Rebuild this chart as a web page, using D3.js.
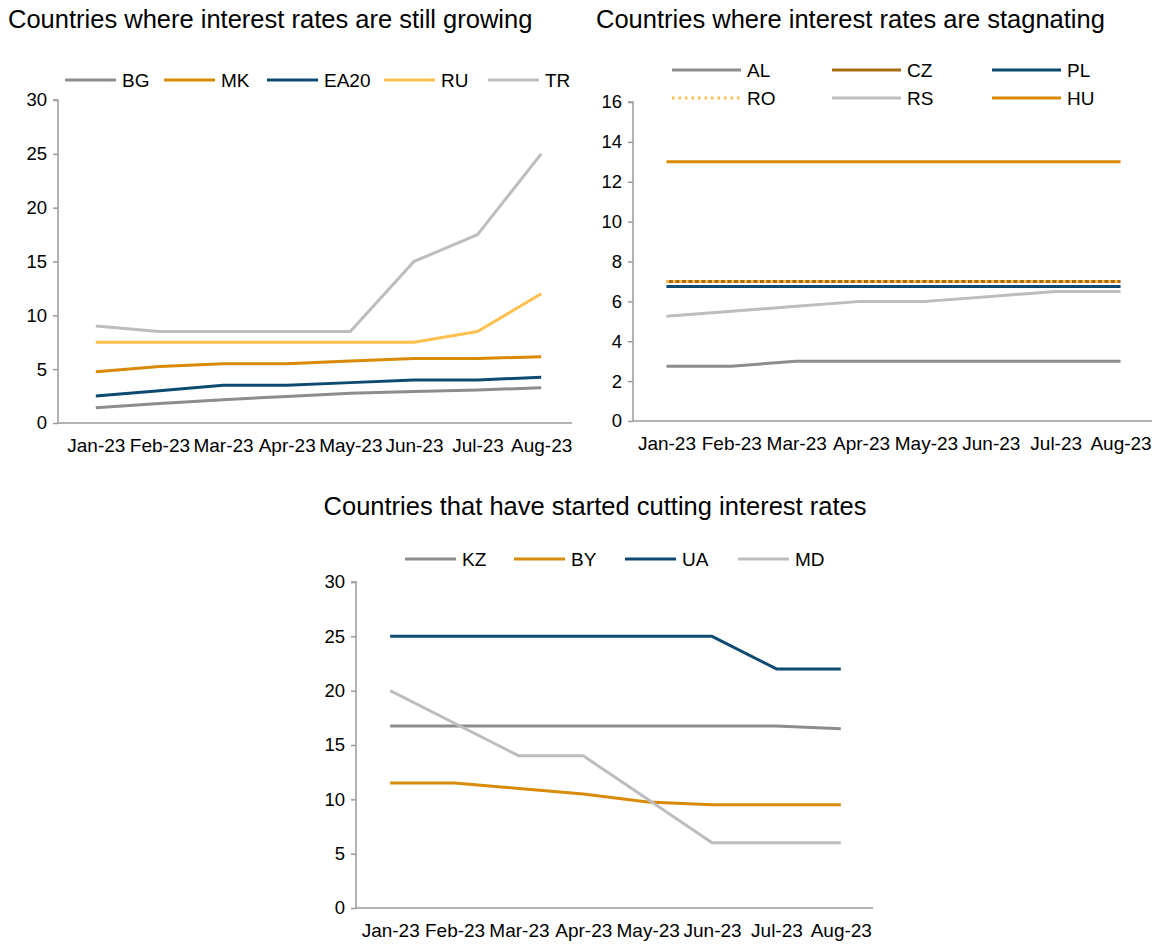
<!DOCTYPE html>
<html>
<head>
<meta charset="utf-8">
<script src="https://cdn.jsdelivr.net/npm/d3@7"></script>
<style>
  html, body { margin: 0; padding: 0; background: #fff; }
  svg { display: block; font-family: "Liberation Sans", Arial, sans-serif; }
</style>
</head>
<body>
<svg id="chart" width="1157" height="944"></svg>
<script>
// Months shared by all three panels
const months = ["Jan-23", "Feb-23", "Mar-23", "Apr-23", "May-23", "Jun-23", "Jul-23", "Aug-23"];

// Panel 1: rates still growing
const growingBG   = [1.42, 1.82, 2.17, 2.47, 2.77, 2.92, 3.07, 3.27];
const growingMK   = [4.75, 5.25, 5.5, 5.5, 5.75, 6, 6, 6.15];
const growingEA20 = [2.5, 3, 3.5, 3.5, 3.75, 4, 4, 4.25];
const growingRU   = [7.5, 7.5, 7.5, 7.5, 7.5, 7.5, 8.5, 12];
const growingTR   = [9, 8.5, 8.5, 8.5, 8.5, 15, 17.5, 25];
const growingTicks = [0, 5, 10, 15, 20, 25, 30];

// Panel 2: rates stagnating
const stagAL = [2.75, 2.75, 3, 3, 3, 3, 3, 3];
const stagCZ = [7, 7, 7, 7, 7, 7, 7, 7];
const stagPL = [6.75, 6.75, 6.75, 6.75, 6.75, 6.75, 6.75, 6.75];
const stagRO = [7, 7, 7, 7, 7, 7, 7, 7];
const stagRS = [5.25, 5.5, 5.75, 6, 6, 6.25, 6.5, 6.5];
const stagHU = [13, 13, 13, 13, 13, 13, 13, 13];
const stagTicks = [0, 2, 4, 6, 8, 10, 12, 14, 16];

// Panel 3: rates being cut
const cutKZ = [16.75, 16.75, 16.75, 16.75, 16.75, 16.75, 16.75, 16.5];
const cutBY = [11.5, 11.5, 11, 10.5, 9.75, 9.5, 9.5, 9.5];
const cutUA = [25, 25, 25, 25, 25, 25, 22, 22];
const cutMD = [20, 17, 14, 14, 10, 6, 6, 6];
const cutTicks = [0, 5, 10, 15, 20, 25, 30];

const C = {
  gray: "#8d8d90",
  lightGray: "#bdbdc0",
  orange: "#d98a06",
  brown: "#a86c12",
  navy: "#0d4a72",
  lightOrange: "#fdbf4e",
  axis: "#9a9a9a"
};

const svg = d3.select("#chart");

function panel(cfg) {
  const g = svg.append("g");
  const x = d3.scalePoint().domain(months).range([cfg.px0, cfg.px1]).padding(0.5);
  const y = d3.scaleLinear().domain([0, d3.max(cfg.ticks)]).range([cfg.y0, cfg.y1]);

  // title
  g.append("text")
    .attr("x", cfg.titleX).attr("y", cfg.titleY)
    .attr("text-anchor", cfg.titleAnchor || "start")
    .attr("font-size", 25.5).attr("fill", "#000")
    .text(cfg.title);

  // y axis
  const ya = g.append("g").attr("transform", `translate(${cfg.x0},0)`)
    .call(d3.axisLeft(y).tickValues(cfg.ticks).tickSize(5).tickPadding(6));
  ya.selectAll("path, line").attr("stroke", C.axis).attr("stroke-width", 1.5);
  ya.select(".domain").attr("d", `M-5,${cfg.y1}H0V${cfg.y0}`);
  ya.selectAll("text").attr("font-size", 18.5).attr("fill", "#000")
    .attr("font-family", "Liberation Sans, Arial, sans-serif");

  // x axis
  const xa = g.append("g").attr("transform", `translate(0,${cfg.y0})`)
    .call(d3.axisBottom(x).tickSize(0).tickPadding(16));
  xa.select(".domain").attr("stroke", C.axis).attr("stroke-width", 1.5)
    .attr("d", `M${cfg.x0},0H${cfg.x1}`);
  xa.selectAll("text").attr("font-size", 19).attr("fill", "#000")
    .attr("font-family", "Liberation Sans, Arial, sans-serif");

  // series lines
  const line = d3.line().x((d, i) => x(months[i])).y(d => y(d));
  cfg.series.forEach(s => {
    g.append("path")
      .attr("d", line(s.values))
      .attr("fill", "none")
      .attr("stroke", s.color)
      .attr("stroke-width", 3)
      .attr("stroke-linejoin", "round")
      .attr("stroke-dasharray", s.dash || null);
  });

  // legend
  cfg.series.forEach((s, i) => {
    const p = cfg.legendPos(i);
    g.append("line")
      .attr("x1", p.x).attr("x2", p.x + p.len)
      .attr("y1", p.y).attr("y2", p.y)
      .attr("stroke", s.color).attr("stroke-width", 3)
      .attr("stroke-dasharray", s.dash || null);
    g.append("text")
      .attr("x", p.x + p.len + 6).attr("y", p.y)
      .attr("dy", "0.35em")
      .attr("font-size", 19).attr("fill", "#000")
      .text(s.name);
  });
}

const leg1 = [65, 164, 267, 384, 488];
panel({
  title: "Countries where interest rates are still growing",
  titleX: 8, titleY: 28,
  x0: 58, x1: 572, px0: 64, px1: 573, y0: 423, y1: 100,
  ticks: growingTicks,
  series: [
    { name: "BG", values: growingBG, color: C.gray },
    { name: "MK", values: growingMK, color: C.orange },
    { name: "EA20", values: growingEA20, color: C.navy },
    { name: "RU", values: growingRU, color: C.lightOrange },
    { name: "TR", values: growingTR, color: C.lightGray }
  ],
  legendPos: i => ({ x: leg1[i], y: 80, len: 51 })
});

const leg2x = [672, 832, 992];
panel({
  title: "Countries where interest rates are stagnating",
  titleX: 596, titleY: 28,
  x0: 633, x1: 1152, px0: 634, px1: 1153, y0: 421, y1: 102,
  ticks: stagTicks,
  series: [
    { name: "AL", values: stagAL, color: C.gray },
    { name: "CZ", values: stagCZ, color: C.brown },
    { name: "PL", values: stagPL, color: C.navy },
    { name: "RO", values: stagRO, color: C.lightOrange, dash: "2.5,4" },
    { name: "RS", values: stagRS, color: C.lightGray },
    { name: "HU", values: stagHU, color: C.orange }
  ],
  legendPos: i => ({ x: leg2x[i % 3], y: i < 3 ? 70 : 98, len: 69 })
});

const leg3 = [405, 514, 625, 738];
panel({
  title: "Countries that have started cutting interest rates",
  titleX: 595, titleY: 515, titleAnchor: "middle",
  x0: 356, x1: 873, px0: 358, px1: 873, y0: 908, y1: 582,
  ticks: cutTicks,
  series: [
    { name: "KZ", values: cutKZ, color: C.gray },
    { name: "BY", values: cutBY, color: C.orange },
    { name: "UA", values: cutUA, color: C.navy },
    { name: "MD", values: cutMD, color: C.lightGray }
  ],
  legendPos: i => ({ x: leg3[i], y: 559, len: 51 })
});
</script>
</body>
</html>
